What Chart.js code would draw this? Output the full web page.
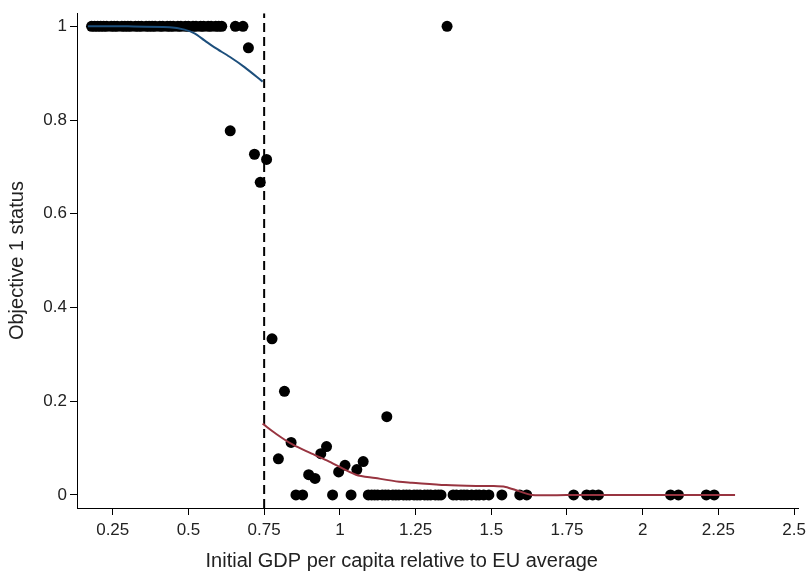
<!DOCTYPE html>
<html>
<head>
<meta charset="utf-8">
<script src="https://cdn.jsdelivr.net/npm/chart.js@4/dist/chart.umd.min.js"></script>
<style>
html,body{margin:0;padding:0;background:#fff;}
#wrap{width:811px;height:578px;}
</style>
</head>
<body>
<div id="wrap"><canvas id="c" width="811" height="578"></canvas></div>
<script>
// Observed regions: x = initial GDP per capita relative to EU average, y = Objective 1 status
const obsX = [
  0.18,0.19,0.20,0.21,0.22,0.23,0.245,0.255,0.265,0.28,0.29,0.30,0.31,0.325,0.335,0.345,0.36,0.37,0.38,0.39,
  0.405,0.415,0.43,0.44,0.45,0.465,0.475,0.49,0.50,0.515,0.525,0.54,0.55,0.565,0.575,0.59,0.60,0.61,0.655,0.68,1.354,
  0.698,0.638,0.718,0.758,0.737,0.776,0.817,1.155,0.839,0.797,0.956,0.937,0.897,0.918,1.017,0.996,1.077,1.056,
  0.855,0.877,0.976,1.037,1.094,1.105,1.115,1.125,1.14,1.15,1.16,1.175,1.185,1.195,1.21,1.22,1.23,1.245,1.255,1.265,
  1.28,1.29,1.30,1.315,1.325,1.334,1.374,1.385,1.40,1.41,1.42,1.435,1.45,1.46,1.475,1.492,1.535,1.594,1.617,
  1.772,1.815,1.835,1.854,2.092,2.118,2.210,2.236
];
const obsY = [
  1,1,1,1,1,1,1,1,1,1,1,1,1,1,1,1,1,1,1,1,
  1,1,1,1,1,1,1,1,1,1,1,1,1,1,1,1,1,1,1,1,1,
  0.954,0.777,0.727,0.716,0.667,0.333,0.221,0.167,0.112,0.077,0.103,0.088,0.043,0.035,0.063,0.049,0.071,0.054,
  0,0,0,0,0,0,0,0,0,0,0,0,0,0,0,0,0,0,0,0,
  0,0,0,0,0,0,0,0,0,0,0,0,0,0,0,0,0,0,0,
  0,0,0,0,0,0,0,0
];
// Local smoother below the threshold
const leftFitX = [0.168,0.30,0.438,0.487,0.52,0.553,0.586,0.636,0.685,0.745];
const leftFitY = [1.0,1.0,0.998,0.993,0.985,0.97,0.955,0.935,0.913,0.882];
// Local smoother above the threshold
const rightFitX = [0.745,0.79,0.845,0.90,0.965,1.053,1.117,1.196,1.238,1.35,1.45,1.502,1.547,1.591,1.634,1.8,2.0,2.2,2.305];
const rightFitY = [0.152,0.13,0.107,0.09,0.071,0.043,0.036,0.028,0.026,0.021,0.019,0.019,0.017,0.008,0.0,0.0,0.0,0.0,0.0];
const cutoff = 0.75;
const xTicks = [0.25,0.5,0.75,1,1.25,1.5,1.75,2,2.25,2.5];
const yTicks = [0,0.2,0.4,0.6,0.8,1];
const xRange = [0.132, 2.515];
const yRange = [-0.028, 1.028];
const xTitle = 'Initial GDP per capita relative to EU average';
const yTitle = 'Objective 1 status';

const pts = obsX.map((x,i)=>({x:x,y:obsY[i]}));
const lf = leftFitX.map((x,i)=>({x:x,y:leftFitY[i]}));
const rf = rightFitX.map((x,i)=>({x:x,y:rightFitY[i]}));
const cut = [{x:cutoff,y:yRange[0]},{x:cutoff,y:yRange[1]}];

const FONT = "'Liberation Sans', Arial, Helvetica, sans-serif";

const xTitlePlugin = {
  id: 'xTitlePlugin',
  afterDraw(chart) {
    const ctx = chart.ctx, a = chart.chartArea;
    ctx.save();
    ctx.font = "20px " + FONT;
    ctx.fillStyle = '#222';
    ctx.textAlign = 'center';
    ctx.textBaseline = 'alphabetic';
    ctx.fillText(xTitle, a.left + (a.right - a.left) * 0.45, 567);
    ctx.restore();
  }
};

new Chart(document.getElementById('c'), {
  type: 'scatter',
  data: {
    datasets: [
      {data: lf, showLine: true, borderColor: '#1d4f7c', borderWidth: 2, pointRadius: 0, tension: 0.3, order: 0},
      {data: rf, showLine: true, borderColor: '#983440', borderWidth: 2, pointRadius: 0, tension: 0.3, order: 0},
      {data: cut, showLine: true, borderColor: '#000', borderWidth: 2, borderDash: [9,5], pointRadius: 0, order: 0},
      {data: pts, backgroundColor: '#000', borderColor: '#000', pointRadius: 5.5, borderWidth: 0, order: 1}
    ]
  },
  plugins: [xTitlePlugin],
  options: {
    responsive: false,
    animation: false,
    layout: {padding: {top: 5, right: 11, left: 0, bottom: 0}},
    plugins: {legend: {display: false}, tooltip: {enabled: false}},
    scales: {
      x: {
        type: 'linear', min: xRange[0], max: xRange[1],
        afterBuildTicks: s => { s.ticks = xTicks.map(v => ({value: v})); },
        afterFit: s => { s.height = 70; },
        grid: {drawOnChartArea: false, drawTicks: true, tickLength: 7, tickColor: '#000', lineWidth: 1},
        border: {display: true, color: '#000', width: 1},
        ticks: {color: '#222', font: {family: FONT, size: 17}, padding: 5, maxRotation: 0, callback: v => String(v)},
        title: {display: false}
      },
      y: {
        type: 'linear', min: yRange[0], max: yRange[1],
        afterBuildTicks: s => { s.ticks = yTicks.map(v => ({value: v})); },
        afterFit: s => { s.width = 77; },
        grid: {drawOnChartArea: false, drawTicks: true, tickLength: 7, tickColor: '#000', lineWidth: 1},
        border: {display: true, color: '#000', width: 1},
        ticks: {color: '#222', font: {family: FONT, size: 17}, padding: 3, callback: v => String(v)},
        title: {display: true, text: yTitle, color: '#222', font: {family: FONT, size: 20}, padding: {top: 5, bottom: 4}}
      }
    }
  }
});
</script>
</body>
</html>
